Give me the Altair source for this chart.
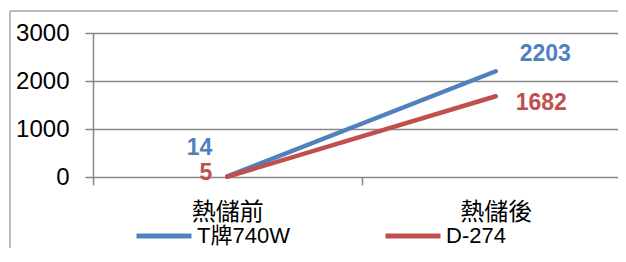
import altair as alt
import pandas as pd

categories = ["熱儲前", "熱儲後"]
series = ["T牌740W", "D-274"]
t740w = [14, 2203]
d274 = [5, 1682]
colors = ["#4F81BD", "#C0504D"]
y_ticks = [0, 1000, 2000, 3000]

rows = []
for s, vals in zip(series, [t740w, d274]):
    for c, v in zip(categories, vals):
        rows.append({"category": c, "series": s, "value": v})
df = pd.DataFrame(rows)

FONT = "Liberation Sans, Noto Sans CJK TC, sans-serif"
GRID = "#878787"

x_enc = alt.X(
    "category:N",
    sort=categories,
    scale=alt.Scale(domain=categories, range=[0, 537], paddingInner=0, paddingOuter=0),
    axis=alt.Axis(
        title=None, labelAngle=0, tickBand="extent", domain=False, grid=False,
        ticks=True, tickSize=8, tickColor=GRID, tickWidth=1.5,
        labelFont=FONT, labelFontSize=24, labelColor="#000", labelPadding=15,
    ),
)
y_enc = alt.Y(
    "value:Q",
    scale=alt.Scale(domain=[0, 3000], nice=False),
    axis=alt.Axis(
        title=None, values=y_ticks, format="d", grid=True, gridColor=GRID, gridWidth=1.5,
        domain=True, domainColor=GRID, domainWidth=1.5,
        ticks=True, tickSize=8, tickColor=GRID, tickWidth=1.5,
        labelFont=FONT, labelFontSize=24, labelColor="#000", labelPadding=16,
    ),
)
color_enc = alt.Color(
    "series:N",
    sort=series,
    scale=alt.Scale(domain=series, range=colors),
    legend=alt.Legend(
        title=None, orient="none", legendX=41, legendY=173, direction="horizontal",
        symbolType="stroke", symbolSize=3025, symbolStrokeWidth=5,
        labelFont=FONT, labelFontSize=22, labelColor="#000", labelOffset=3,
        columnPadding=85, padding=0,
    ),
)

base = alt.Chart(df)
line = base.mark_line(strokeWidth=4.5, strokeCap="round").encode(x=x_enc, y=y_enc, color=color_enc)


def label_layer(cat, ser, align, dx, dy):
    return base.transform_filter(
        (alt.datum.category == cat) & (alt.datum.series == ser)
    ).mark_text(
        align=align, baseline="middle", dx=dx, dy=dy, fontSize=23, fontWeight="bold", font=FONT
    ).encode(
        x=alt.X("category:N", sort=categories),
        y="value:Q",
        text="value:Q",
        color=alt.Color("series:N", sort=series, legend=None),
    )


labels = [
    label_layer(categories[0], series[0], "right", -15, -28),
    label_layer(categories[0], series[1], "right", -15, -4),
    label_layer(categories[1], series[0], "left", 24, -17),
    label_layer(categories[1], series[1], "left", 20, 7),
]

frame_df = pd.DataFrame({"k": [0]})
frame_left = alt.Chart(frame_df).mark_rule(color="#a6a6a6", strokeWidth=1.5).encode(
    x=alt.value(-83), y=alt.value(-22), y2=alt.value(240)
)
frame_top = alt.Chart(frame_df).mark_rule(color="#a6a6a6", strokeWidth=1.5).encode(
    x=alt.value(-83), x2=alt.value(525), y=alt.value(-22)
)

chart = alt.layer(frame_left, frame_top, line, *labels).properties(
    width=525, height=144,
    autosize=alt.AutoSizeParams(type="none"),
    padding={"left": 85, "top": 25, "right": 0, "bottom": 71},
).configure_view(stroke=None).configure(background="white")

chart.save("out.html", embed_options={"renderer": "svg", "actions": False})
